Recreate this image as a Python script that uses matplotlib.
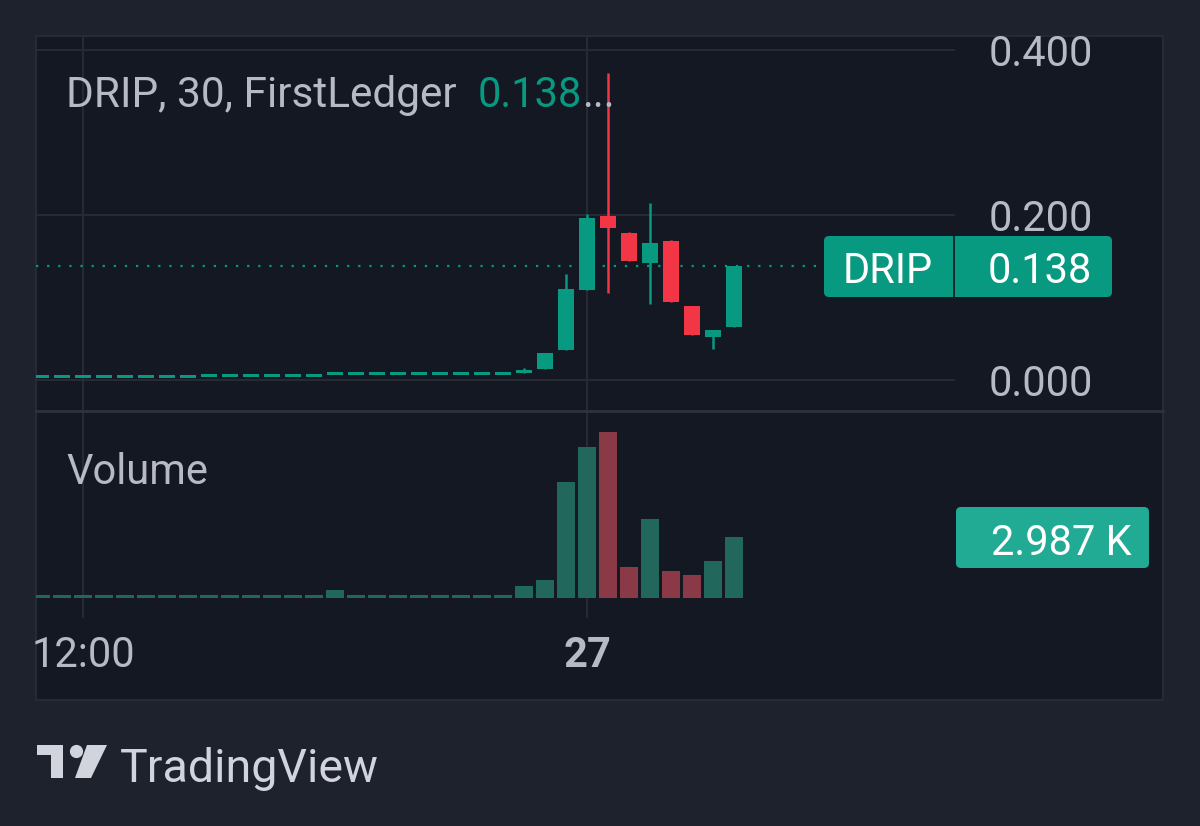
import matplotlib.pyplot as plt
import numpy as np
from matplotlib.patches import FancyBboxPatch, Rectangle, Circle, Polygon

plt.rcParams['font.family'] = ['Roboto', 'DejaVu Sans']

# 30-minute DRIP candles, oldest first
opens = [0.004] * 8 + [0.0052] * 6 + [0.0073] * 9 + [
    0.0085, 0.0133, 0.0364, 0.109, 0.199, 0.178, 0.142, 0.168, 0.090, 0.052, 0.064]
highs = [0.004] * 8 + [0.0052] * 6 + [0.0073] * 9 + [
    0.0145, 0.0327, 0.128, 0.201, 0.372, 0.179, 0.215, 0.170, 0.090, 0.0606, 0.138]
lows = [0.004] * 8 + [0.0052] * 6 + [0.0073] * 9 + [
    0.0085, 0.0133, 0.0364, 0.109, 0.105, 0.144, 0.092, 0.0945, 0.0545, 0.0376, 0.064]
closes = [0.004] * 8 + [0.0052] * 6 + [0.0073] * 9 + [
    0.0121, 0.0327, 0.110, 0.196, 0.184, 0.144, 0.166, 0.0945, 0.0545, 0.0606, 0.138]
volumes = [125] * 14 + [380] + [125] * 8 + [
    580, 890, 5740, 7445, 8200, 1520, 3880, 1320, 1140, 1800, 2987]
time_ticks = [2, 26]
time_labels = ["12:00", "27"]
price_ticks = [0.0, 0.2, 0.4]
last_price = 0.138
last_volume = "2.987 K"
symbol = "DRIP"
title = "DRIP, 30, FirstLedger"

W, H = 1200, 826
OUTER = '#1e222d'
PANEL = '#141823'
GRID = '#262a35'
TEXT = '#b7bac4'
UP = '#089981'
DOWN = '#f23645'
UP_VOL = '#21675c'
DOWN_VOL = '#8a3a46'


def fx(x):
    return x / W


def fy(y):
    return 1 - y / H


def inch(x, y):
    return (x / 100, (H - y) / 100)


fig = plt.figure(figsize=(12, 8.26), dpi=100, facecolor=OUTER)

# chart panel
fig.patches.append(Rectangle(inch(36, 700), 11.27, 6.64, transform=fig.dpi_scale_trans,
                             facecolor=PANEL, edgecolor=GRID, linewidth=1.5, zorder=-5))

ax = fig.add_axes([fx(36), fy(411), fx(955 - 36), (411 - 36) / H])
axv = fig.add_axes([fx(36), fy(618), fx(955 - 36), (618 - 411) / H])

n = len(closes)
x = np.arange(n)
up = np.array(closes) >= np.array(opens)

for a in (ax, axv):
    a.set_facecolor('none')
    a.set_zorder(1)
    a.set_xlim(-0.238, 43.52)
    for s in a.spines.values():
        s.set_visible(False)
    a.set_xticks(time_ticks)
    a.grid(True, color=GRID, linewidth=1.5)
    a.set_axisbelow(True)
    a.tick_params(length=0)

# price pane
ax.set_ylim(-0.03758, 0.41697)
ax.set_yticks(price_ticks)
ax.set_yticklabels([f"{p:.3f}" for p in price_ticks])
ax.yaxis.tick_right()
ax.tick_params(axis='y', pad=24.5, labelsize=30, labelcolor=TEXT)
ax.set_xticklabels([])

ax.vlines(x, lows, highs, colors=[UP if u else DOWN for u in up], linewidth=1.8, zorder=3)
min_h = 0.0036
body_bottom = []
body_h = []
for o, c in zip(opens, closes):
    lo, hi = min(o, c), max(o, c)
    if hi - lo < min_h:
        mid = (lo + hi) / 2
        lo, hi = mid - min_h / 2, mid + min_h / 2
    body_bottom.append(lo)
    body_h.append(hi - lo)
ax.bar(x, body_h, bottom=body_bottom, width=0.76,
       color=[UP if u else DOWN for u in up], linewidth=0, zorder=4)

# last price dotted line
ax.plot([-0.238, (824 - 41) / 21], [last_price, last_price], color=UP,
        linestyle=(0, (1, 4)), linewidth=1.6, zorder=2)

# volume pane
axv.set_ylim(-1005, 9243)
axv.set_yticks([])
axv.bar(x, volumes, width=0.86, color=[UP_VOL if u else DOWN_VOL for u in up],
        linewidth=0, zorder=3)
axv.set_xticklabels(time_labels)
axv.tick_params(axis='x', pad=12, labelsize=30, labelcolor=TEXT)
axv.get_xticklabels()[1].set_fontweight('bold')

# pane separator
fig.add_artist(plt.Line2D([fx(36), fx(1163)], [fy(411), fy(411)], color='#2e323d', linewidth=2))

# legend texts
fig.text(fx(66), fy(107), title, fontsize=30.5, color=TEXT, va='baseline')
fig.text(fx(478), fy(107), f"{last_price:.3f}", fontsize=30, color=UP, va='baseline')
fig.text(fx(582), fy(107), "...", fontsize=30, color=TEXT, va='baseline')
fig.text(fx(66), fy(484), "Volume", fontsize=30, color=TEXT, va='baseline')

# price label box
fig.patches.append(FancyBboxPatch(inch(824, 297), 2.88, 0.61,
                                  boxstyle='round,pad=0,rounding_size=0.05',
                                  transform=fig.dpi_scale_trans, facecolor=UP,
                                  edgecolor='none', zorder=5))
fig.add_artist(plt.Line2D([fx(953.5), fx(953.5)], [fy(297), fy(236)], color=PANEL,
                          linewidth=1.2, zorder=5.5))
fig.text(fx(888), fy(267), symbol, fontsize=30, color='white', ha='center', va='center_baseline', zorder=6)
fig.text(fx(1092), fy(267), f"{last_price:.3f}", fontsize=30, color='white', ha='right',
         va='center_baseline', zorder=6)

# volume label box
fig.patches.append(FancyBboxPatch(inch(956, 568), 1.93, 0.61,
                                  boxstyle='round,pad=0,rounding_size=0.05',
                                  transform=fig.dpi_scale_trans, facecolor='#22ab94',
                                  edgecolor='none', zorder=5))
fig.text(fx(1132), fy(539), last_volume, fontsize=30, color='white', ha='right',
         va='center_baseline', zorder=6)

# TradingView logo
LOGO = '#d1d4dc'
fig.patches.append(Polygon([inch(37, 745), inch(63, 745), inch(63, 778), inch(51, 778),
                            inch(51, 755), inch(37, 755)], closed=True,
                           transform=fig.dpi_scale_trans, facecolor=LOGO, edgecolor='none'))
fig.patches.append(Circle(inch(76.5, 751.5), 0.066, transform=fig.dpi_scale_trans,
                          facecolor=LOGO, edgecolor='none'))
fig.patches.append(Polygon([inch(87, 745), inch(107, 745), inch(91, 778), inch(75, 778)],
                           closed=True, transform=fig.dpi_scale_trans, facecolor=LOGO,
                           edgecolor='none'))
fig.text(fx(120), fy(782), "TradingView", fontsize=33.5, color=LOGO, va='baseline')

fig.savefig('out.png', dpi=100, facecolor=OUTER)
